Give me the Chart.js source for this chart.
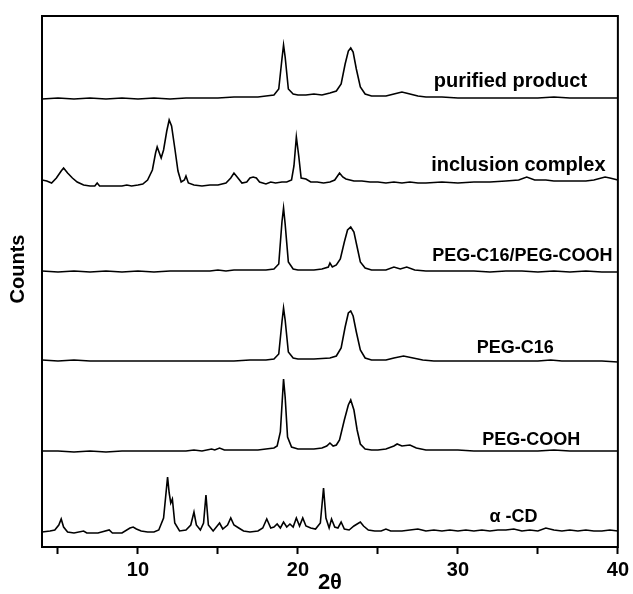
<!DOCTYPE html>
<html lang="en">
<head>
<meta charset="UTF-8">
<title>XRD patterns</title>
<style>
    body { margin: 0; padding: 0; background: #fff; }
    #wrap { width: 633px; height: 594px; }
</style>
</head>
<body>
<div id="wrap"><canvas id="xrd" width="633" height="594"></canvas></div>
<script src="https://cdn.jsdelivr.net/npm/chart.js"></script>
<script>
// 2θ positions and intensities (a.u., above each pattern's own baseline)
const pureX = [4,5,6,7,8,9,10,11,12,13,14,15,16,17,17.5,18,18.5,18.8,19.0,19.1,19.2,19.4,19.7,20,20.5,21,21.5,22,22.4,22.7,22.95,23.15,23.3,23.45,23.65,23.9,24.2,24.6,25,25.5,26,26.5,27,27.5,28,29,30,31,32,33,34,35,36,37,38,39,40];
const pureY = [0,1,0,1,0,1,0,1,0,1,1,1,2,2,2,3,4,10,40,54,42,10,5,4,4,5,4,6,8,15,35,48,51,47,30,12,5,3,3,3,5,7,5,3,2,2,1,1,1,1,1,1,2,1,1,1,1];

const inclX = [4.0,4.3,4.6,4.9,5.2,5.35,5.6,5.9,6.2,6.6,7.0,7.3,7.45,7.6,8,8.5,9,9.3,9.6,10,10.3,10.6,10.9,11.1,11.2,11.45,11.6,11.8,11.95,12.1,12.3,12.5,12.7,12.9,13.0,13.15,13.5,14,14.5,15,15.5,15.8,16.0,16.2,16.5,16.8,17.0,17.2,17.4,17.6,18,18.3,18.6,19.0,19.3,19.6,19.75,19.9,20.05,20.2,20.5,20.8,21.2,21.6,22,22.3,22.6,22.8,23,23.5,24,24.5,25,25.5,26,26.5,27,27.5,28,29,30,31,32,33,33.8,34.3,34.8,35.5,36,37,38,38.5,39.2,39.5,40];
const inclY = [6,5,3,8,15,18,13,8,4,1,0,0,3,0,0,0,0,1,0,1,2,6,16,33,39,28,36,55,66,60,38,15,4,6,10,3,1,0,1,1,3,8,13,9,3,4,8,9,8,4,2,4,3,4,4,6,20,49,30,8,7,4,4,3,4,6,13,9,7,5,5,4,4,3,4,3,4,3,3,4,3,4,4,5,6,9,6,6,5,5,5,6,9,8,6];

const mixX = [4,5,6,7,8,9,10,11,12,13,14,14.5,15,15.5,16,17,18,18.5,18.8,19.0,19.1,19.2,19.4,19.7,20,20.5,21,21.5,21.9,22.0,22.15,22.4,22.65,22.9,23.1,23.3,23.5,23.7,23.9,24.2,24.6,25,25.5,26,26.4,26.8,27.3,28,29,30,31,32,33,34,35,36,37,38,39,40];
const mixY = [1,0,1,0,1,0,1,0,1,1,1,1,2,1,2,2,2,3,8,50,64,48,10,3,2,2,2,3,5,9,5,7,13,30,42,45,40,25,10,4,2,2,2,5,3,5,2,1,1,1,1,0,1,1,0,1,0,1,0,0];

const c16X = [4,5,6,7,8,9,10,11,12,13,14,15,16,17,18,18.5,18.8,19.0,19.1,19.2,19.4,19.7,20,21,22,22.4,22.7,22.95,23.15,23.3,23.45,23.65,23.9,24.2,24.6,25,25.5,26,26.6,27.2,27.8,28.5,29,30,31,32,33,34,35,35.8,36.5,37,38,39,40];
const c16Y = [2,1,2,1,1,1,1,1,1,1,1,1,1,2,2,3,8,40,54,42,10,4,3,3,4,6,14,35,49,51,46,30,12,4,2,2,2,4,6,4,2,1,1,1,1,1,1,1,1,2,1,1,1,1,0];

const coohX = [4,5,6,7,8,9,10,11,12,13,13.5,14,14.6,14.8,15.1,15.4,16,17,17.5,18,18.5,18.7,18.9,19.05,19.1,19.2,19.35,19.6,20,20.5,21,21.5,21.8,22.0,22.2,22.4,22.6,22.9,23.15,23.3,23.5,23.7,23.9,24.2,24.6,25,25.5,26,26.2,26.5,27,27.4,28,29,30,31,32,33,34,35,36,37,38,39,40];
const coohY = [1,1,0,1,0,1,1,1,1,1,2,1,3,2,4,2,2,2,2,3,4,6,20,60,73,55,15,5,3,3,3,4,6,9,6,7,12,32,47,52,42,22,8,3,2,2,3,6,8,6,7,4,2,2,2,1,1,1,1,1,2,1,1,1,1];

const cdX = [4,4.5,4.8,5.05,5.2,5.35,5.6,6,6.6,6.8,7.5,8.2,8.4,9,9.5,9.7,9.9,10.2,10.6,11,11.3,11.6,11.85,11.95,12.05,12.15,12.3,12.6,13,13.3,13.5,13.65,13.9,14.1,14.25,14.4,14.7,15.0,15.1,15.3,15.6,15.8,16.0,16.3,16.6,17,17.5,17.8,18.05,18.3,18.5,18.7,18.9,19.1,19.3,19.5,19.7,19.9,20.1,20.3,20.5,20.8,21.1,21.4,21.6,21.75,21.95,22.1,22.3,22.5,22.7,22.9,23.2,23.5,23.7,23.9,24.1,24.4,24.8,25.2,25.5,25.8,26.5,27,27.5,28,28.5,29,29.5,30,30.5,31,31.5,32,32.5,33,33.5,34,34.5,35,35.5,36,36.5,37,37.5,38,38.5,39,39.5,40];
const cdY = [1,2,3,8,14,6,1,0,2,0,0,3,0,0,5,6,4,2,1,1,3,15,56,40,30,34,10,2,3,8,21,8,3,10,38,8,2,8,10,4,8,15,8,5,2,1,2,5,14,5,6,9,5,11,6,9,6,15,7,15,7,5,4,10,45,15,5,14,6,5,11,4,3,7,9,11,7,3,2,2,4,2,2,3,4,2,3,2,3,2,3,2,3,2,3,3,4,2,3,2,5,3,2,3,2,3,2,2,3,2];

// vertical offset of each pattern (stacked plot)
const names   = ['purified product', 'inclusion complex', 'PEG-C16/PEG-COOH', 'PEG-C16', 'PEG-COOH', 'α -CD'];
const offsets = [448, 361, 275, 185, 95, 14];
const seriesX = [pureX, inclX, mixX, c16X, coohX, cdX];
const seriesY = [pureY, inclY, mixY, c16Y, coohY, cdY];

const tickValues = [5, 10, 15, 20, 25, 30, 35, 40];
const tickLabels = [10, 20, 30, 40];

const FONT = "'Liberation Sans', Arial, sans-serif";

// where the curve names sit (2θ, counts) and their size
const nameSpots = [
    { x: 33.28, y: 466, size: 20 },
    { x: 33.78, y: 382, size: 20 },
    { x: 34.03, y: 291, size: 18 },
    { x: 33.59, y: 199, size: 18 },
    { x: 34.58, y: 107, size: 18 },
    { x: 33.47, y: 30, size: 18 }
];

const datasets = seriesX.map((xs, i) => ({
    label: names[i],
    data: xs.map((x, k) => ({ x: x, y: seriesY[i][k] + offsets[i] })),
    borderColor: '#000',
    borderWidth: 1.6,
    pointRadius: 0,
    tension: 0,
    fill: false
}));

// frame around the plot, curve names and the y title
const framePlugin = {
    id: 'frame',
    afterDraw(chart) {
        const { ctx, chartArea: a, scales } = chart;
        ctx.save();
        ctx.strokeStyle = '#000';
        ctx.lineWidth = 2;
        ctx.strokeRect(a.left, a.top, a.right - a.left, a.bottom - a.top);
        ctx.fillStyle = '#000';
        ctx.textAlign = 'center';
        ctx.textBaseline = 'middle';
        nameSpots.forEach((s, i) => {
            ctx.font = 'bold ' + s.size + 'px ' + FONT;
            ctx.fillText(names[i], scales.x.getPixelForValue(s.x), scales.y.getPixelForValue(s.y));
        });
        // "Counts" sits a little above the middle of the axis
        ctx.translate(18, 269);
        ctx.rotate(-Math.PI / 2);
        ctx.font = 'bold 20px ' + FONT;
        ctx.fillText('Counts', 0, 0);
        ctx.restore();
    }
};

new Chart(document.getElementById('xrd'), {
    type: 'line',
    data: { datasets: datasets },
    options: {
        responsive: false,
        animation: false,
        layout: { padding: { top: 16, right: 12, left: 0, bottom: 0 } },
        plugins: { legend: { display: false }, tooltip: { enabled: false } },
        scales: {
            x: {
                type: 'linear',
                min: 4,
                max: 40,
                afterFit(scale) { scale.height = 47; },
                afterBuildTicks(scale) { scale.ticks = tickValues.map(v => ({ value: v })); },
                grid: { drawOnChartArea: false, drawTicks: true, tickLength: 7, tickWidth: 2, tickColor: '#000' },
                border: { display: false },
                ticks: {
                    autoSkip: false,
                    maxRotation: 0,
                    padding: 4,
                    color: '#000',
                    font: { family: FONT, size: 20, weight: 'bold' },
                    callback: v => tickLabels.includes(v) ? String(v) : ''
                },
                title: {
                    display: true,
                    text: '2θ',
                    color: '#000',
                    padding: { top: 0, bottom: 0 },
                    font: { family: FONT, size: 22, weight: 'bold', lineHeight: 1 }
                }
            },
            y: {
                min: 0,
                max: 531,
                afterFit(scale) { scale.width = 42; },
                grid: { display: false },
                border: { display: false },
                ticks: { display: false },
                title: { display: false }
            }
        }
    },
    plugins: [framePlugin]
});
</script>
</body>
</html>
